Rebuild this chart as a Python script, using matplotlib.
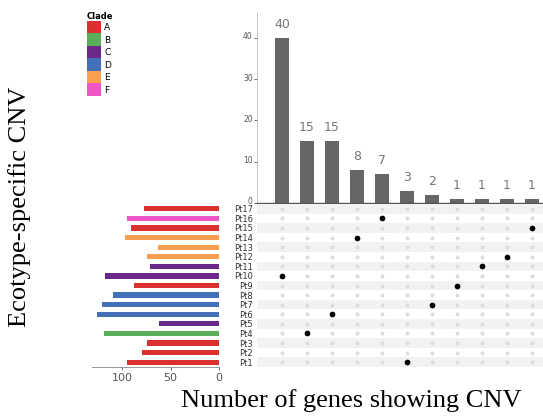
import matplotlib.pyplot as plt
from matplotlib.patches import Patch
from matplotlib.transforms import ScaledTranslation

# данные
set_sizes = [40, 15, 15, 8, 7, 3, 2, 1, 1, 1, 1]
set_members = ['Pt10', 'Pt4', 'Pt6', 'Pt14', 'Pt16', 'Pt1', 'Pt7', 'Pt9', 'Pt11', 'Pt12', 'Pt15']
samples = ['Pt1', 'Pt2', 'Pt3', 'Pt4', 'Pt5', 'Pt6', 'Pt7', 'Pt8', 'Pt9',
           'Pt10', 'Pt11', 'Pt12', 'Pt13', 'Pt14', 'Pt15', 'Pt16', 'Pt17']
sample_totals = [95, 79, 74, 119, 62, 126, 121, 109, 88, 118, 71, 74, 63, 97, 91, 95, 77]
sample_clade = ['A', 'A', 'A', 'B', 'C', 'D', 'D', 'D', 'A',
                'C', 'C', 'E', 'E', 'E', 'A', 'F', 'A']
clades = ['A', 'B', 'C', 'D', 'E', 'F']
clade_colors = {'A': '#d93030', 'B': '#5aae5a', 'C': '#6b2a8a',
                'D': '#4470b8', 'E': '#f8a050', 'F': '#ee55c5'}

fig = plt.figure(figsize=(5.43, 4.18), dpi=100)
W, H = 543, 418


def box(x0, y0, x1, y1):
    return [x0 / W, 1 - y1 / H, (x1 - x0) / W, (y1 - y0) / H]


cols = list(range(len(set_sizes)))
rows = list(range(len(samples)))

# верхняя диаграмма: размеры пересечений
ax_top = fig.add_axes(box(257, 13, 543, 203))
ax_top.bar(cols, set_sizes, width=0.57, color='#666666')
for c, v in zip(cols, set_sizes):
    ax_top.annotate(str(v), (c, v), xytext=(0, 5), textcoords='offset points',
                    ha='center', va='bottom', fontsize=9, color='#777777')
ax_top.set_xlim(-1.0, 10.44)
ax_top.set_ylim(0, 46)
ax_top.set_yticks([0, 10, 20, 30, 40])
ax_top.set_xticks([])
ax_top.tick_params(axis='y', labelsize=5.5, colors='#555555', length=2, width=0.6, pad=1)
# чуть приподнять подписи, чтобы "0" не налезал на Pt17
shift = ScaledTranslation(0, 1.5 / 72, fig.dpi_scale_trans)
for lbl in ax_top.get_yticklabels():
    lbl.set_transform(lbl.get_transform() + shift)
for s in ['top', 'right']:
    ax_top.spines[s].set_visible(False)
ax_top.spines['left'].set_color('#bbbbbb')
ax_top.spines['left'].set_linewidth(0.6)
ax_top.spines['bottom'].set_color('#555555')
ax_top.spines['bottom'].set_linewidth(1.0)

# матрица
ax_m = fig.add_axes(box(257, 204, 543, 367))
for r in rows:
    if r % 2 == 0:
        ax_m.axhspan(r - 0.5, r + 0.5, color='#f2f2f2', lw=0, zorder=0)
gx = [c for c in cols for r in rows]
gy = [r for c in cols for r in rows]
ax_m.scatter(gx, gy, s=8, color='#dcdcdc', lw=0, zorder=2)
ax_m.scatter(cols, [samples.index(m) for m in set_members], s=17, color='black', lw=0, zorder=3)
ax_m.set_xlim(-1.0, 10.44)
ax_m.set_ylim(-0.5, len(samples) - 0.5)
ax_m.set_xticks([])
ax_m.set_yticks(rows)
ax_m.set_yticklabels(samples)
ax_m.tick_params(axis='y', length=0, labelsize=6, pad=3, colors='#333333')
for s in ax_m.spines.values():
    s.set_visible(False)

# левая диаграмма: число генов по образцам
ax_l = fig.add_axes(box(92, 204, 219, 367))
ax_l.barh(rows, sample_totals, height=0.55,
          color=[clade_colors[c] for c in sample_clade])
ax_l.set_xlim(131, 0)
ax_l.set_ylim(-0.5, len(samples) - 0.5)
ax_l.set_yticks([])
ax_l.set_xticks([100, 50, 0])
ax_l.tick_params(axis='x', labelsize=8, colors='#555555', length=2, width=0.6, pad=2)
for s in ['top', 'right', 'left']:
    ax_l.spines[s].set_visible(False)
ax_l.spines['bottom'].set_color('#888888')
ax_l.spines['bottom'].set_linewidth(0.6)

# легенда
handles = [Patch(facecolor=clade_colors[c], edgecolor='none', label=c) for c in clades]
leg = fig.legend(handles=handles, title='Clade', loc='upper left',
                 bbox_to_anchor=(87 / W, 1 - 12 / H), frameon=False, fontsize=6.5,
                 title_fontproperties={'size': 6, 'weight': 'bold'},
                 handlelength=1.5, handleheight=1.75, labelspacing=0,
                 handletextpad=0.4, borderpad=0, borderaxespad=0, alignment='left')

fig.text(20 / W, 1 - 207 / H, 'Ecotype-specific CNV', rotation=90, ha='center', va='center',
         family=['Liberation Serif', 'DejaVu Serif'], fontsize=19)
fig.text(351 / W, 1 - 401 / H, 'Number of genes showing CNV', ha='center', va='center',
         family=['Liberation Serif', 'DejaVu Serif'], fontsize=19)

fig.savefig('out.png', dpi=100)
